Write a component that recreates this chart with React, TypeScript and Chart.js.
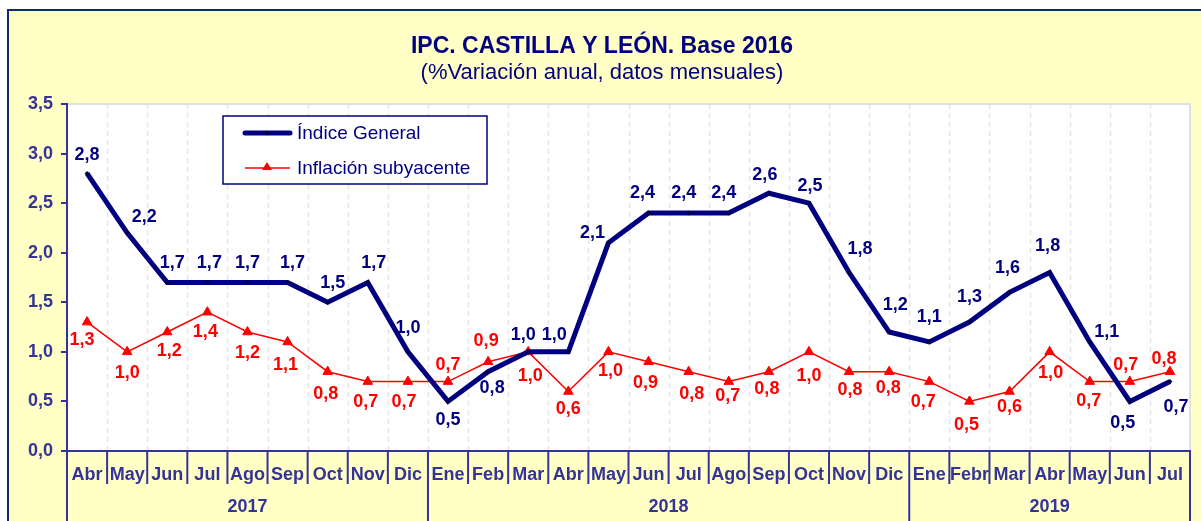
import React, { useEffect, useRef } from "react";
import { Chart, registerables } from "chart.js";

Chart.register(...registerables);

// ---------- data ----------
const MONTHS = [
  "Abr", "May", "Jun", "Jul", "Ago", "Sep", "Oct", "Nov", "Dic",
  "Ene", "Feb", "Mar", "Abr", "May", "Jun", "Jul", "Ago", "Sep", "Oct", "Nov", "Dic",
  "Ene", "Febr", "Mar", "Abr", "May", "Jun", "Jul",
];
const YEARS = ["2017", "2018", "2019"];
const YEAR_SPANS = [9, 12, 7];

const INDICE_GENERAL = [
  2.8, 2.2, 1.7, 1.7, 1.7, 1.7, 1.5, 1.7, 1.0,
  0.5, 0.8, 1.0, 1.0, 2.1, 2.4, 2.4, 2.4, 2.6, 2.5, 1.8, 1.2,
  1.1, 1.3, 1.6, 1.8, 1.1, 0.5, 0.7,
];
const INFLACION_SUBYACENTE = [
  1.3, 1.0, 1.2, 1.4, 1.2, 1.1, 0.8, 0.7, 0.7,
  0.7, 0.9, 1.0, 0.6, 1.0, 0.9, 0.8, 0.7, 0.8, 1.0, 0.8, 0.8,
  0.7, 0.5, 0.6, 1.0, 0.7, 0.7, 0.8,
];

const Y_MIN = 0;
const Y_MAX = 3.5;
const Y_STEP = 0.5;

const TITLE = "IPC. CASTILLA Y LEÓN. Base 2016";
const SUBTITLE = "(%Variación anual, datos mensuales)";
const SERIES_NAMES = ["Índice General", "Inflación subyacente"];

// label placement offsets (dx, dy) relative to each point
const IG_LABEL_OFFSETS: [number, number][] = [
  [0, -18], [17, -16], [5, -19], [2, -19], [0, -19], [5, -19], [5, -19], [6, -19], [0, -24],
  [0, 19], [4, 16], [-5, -17], [-14, -17], [-16, -10], [-6, -20], [-5, -20], [-5, -20], [-4, -18], [1, -17], [11, -24], [6, -27],
  [0, -25], [0, -25], [-2, -24], [-2, -27], [17, -10], [-7, 22], [6, 25],
];
const IS_LABEL_OFFSETS: [number, number][] = [
  [-5, 18], [0, 21], [2, 19], [-2, 20], [0, 21], [-2, 23], [-2, 22], [-2, 20], [-4, 20],
  [0, -17], [-2, -21], [2, 24], [0, 18], [2, 19], [-3, 21], [3, 22], [-1, 14], [-2, 17], [0, 24], [1, 18], [-1, 16],
  [-6, 20], [-3, 24], [0, 16], [1, 21], [-1, 19], [-4, -17], [-6, -13],
];

// ---------- styles ----------
const FONT = "'Liberation Sans', Arial, Helvetica, sans-serif";
const NAVY = "#000080";
const AXIS_BLUE = "#333399";
const RED = "#FF0000";
const YELLOW = "#FFFFC6";
const FRAME = "#0E2A66";

const fmt = (v: number) => v.toFixed(1).replace(".", ",");

function catBoundary(chart: any, i: number) {
  const x = chart.scales.x;
  const w = x.getPixelForValue(1) - x.getPixelForValue(0);
  return x.getPixelForValue(i) - w / 2;
}

const framePlugin = {
  id: "frame",
  beforeDraw(chart: any) {
    const { ctx, chartArea: ca, width, height } = chart;
    ctx.save();
    ctx.fillStyle = "#FFFFFF";
    ctx.fillRect(0, 0, width, height);
    ctx.fillStyle = YELLOW;
    ctx.fillRect(8, 10, width - 8, height - 10);
    ctx.strokeStyle = FRAME;
    ctx.lineWidth = 2;
    ctx.beginPath();
    ctx.moveTo(8, height);
    ctx.lineTo(8, 10);
    ctx.lineTo(width, 10);
    ctx.stroke();

    // plot area
    ctx.fillStyle = "#FFFFFF";
    ctx.fillRect(ca.left, ca.top, ca.right - ca.left, ca.bottom - ca.top);
    ctx.strokeStyle = "#E6E6E6";
    ctx.lineWidth = 1.5;
    ctx.setLineDash([5, 4]);
    for (let i = 1; i < MONTHS.length; i++) {
      const gx = Math.round(catBoundary(chart, i)) + 0.5;
      ctx.beginPath();
      ctx.moveTo(gx, ca.top);
      ctx.lineTo(gx, ca.bottom);
      ctx.stroke();
    }
    ctx.setLineDash([]);
    ctx.strokeStyle = "#E0E0E0";
    ctx.lineWidth = 2;
    ctx.strokeRect(ca.left, ca.top, ca.right - ca.left, ca.bottom - ca.top);

    // titles
    ctx.fillStyle = NAVY;
    ctx.textAlign = "center";
    ctx.textBaseline = "middle";
    ctx.font = `bold 23px ${FONT}`;
    ctx.fillText(TITLE, 602, 47);
    ctx.font = `22px ${FONT}`;
    ctx.fillText(SUBTITLE, 602, 73);
    ctx.restore();
  },
  afterDatasetsDraw(chart: any) {
    const { ctx } = chart;
    ctx.save();
    ctx.textAlign = "center";
    ctx.textBaseline = "middle";
    ctx.font = `bold 18px ${FONT}`;
    const sets = [
      { idx: 0, values: INDICE_GENERAL, offs: IG_LABEL_OFFSETS, color: NAVY },
      { idx: 1, values: INFLACION_SUBYACENTE, offs: IS_LABEL_OFFSETS, color: RED },
    ];
    for (const s of sets) {
      const meta = chart.getDatasetMeta(s.idx);
      ctx.fillStyle = s.color;
      meta.data.forEach((pt: any, i: number) => {
        const [dx, dy] = s.offs[i];
        ctx.fillText(fmt(s.values[i]), pt.x + dx, pt.y + dy);
      });
    }

    // legend
    const lx = 223, ly = 116, lw = 264, lh = 68;
    ctx.fillStyle = "#FFFFFF";
    ctx.fillRect(lx, ly, lw, lh);
    ctx.strokeStyle = NAVY;
    ctx.lineWidth = 1.5;
    ctx.strokeRect(lx, ly, lw, lh);
    // entry 1
    ctx.strokeStyle = NAVY;
    ctx.lineWidth = 5;
    ctx.lineCap = "round";
    ctx.beginPath();
    ctx.moveTo(245, 133);
    ctx.lineTo(290, 133);
    ctx.stroke();
    ctx.lineCap = "butt";
    ctx.fillStyle = "#000040";
    ctx.beginPath();
    ctx.moveTo(267, 130.5);
    ctx.lineTo(269.5, 133);
    ctx.lineTo(267, 135.5);
    ctx.lineTo(264.5, 133);
    ctx.closePath();
    ctx.fill();
    // entry 2
    ctx.strokeStyle = RED;
    ctx.lineWidth = 1.5;
    ctx.beginPath();
    ctx.moveTo(245, 168);
    ctx.lineTo(290, 168);
    ctx.stroke();
    ctx.fillStyle = RED;
    ctx.beginPath();
    ctx.moveTo(267, 162);
    ctx.lineTo(272, 170);
    ctx.lineTo(262, 170);
    ctx.closePath();
    ctx.fill();
    ctx.fillStyle = NAVY;
    ctx.textAlign = "left";
    ctx.font = `19px ${FONT}`;
    ctx.fillText(SERIES_NAMES[0], 297, 134);
    ctx.fillText(SERIES_NAMES[1], 297, 169);
    ctx.restore();
  },
  afterDraw(chart: any) {
    const { ctx, chartArea: ca, height } = chart;
    ctx.save();
    ctx.strokeStyle = AXIS_BLUE;
    ctx.lineWidth = 2;
    const yearBounds = new Set<number>([0]);
    let acc = 0;
    YEAR_SPANS.forEach((s) => {
      acc += s;
      yearBounds.add(acc);
    });
    for (let i = 0; i <= MONTHS.length; i++) {
      const gx = catBoundary(chart, i);
      ctx.beginPath();
      ctx.moveTo(gx, ca.bottom);
      ctx.lineTo(gx, yearBounds.has(i) ? height : ca.bottom + 33);
      ctx.stroke();
    }
    ctx.fillStyle = AXIS_BLUE;
    ctx.font = `bold 18px ${FONT}`;
    ctx.textAlign = "center";
    ctx.textBaseline = "middle";
    let start = 0;
    YEARS.forEach((y, k) => {
      const end = start + YEAR_SPANS[k];
      const cx = (catBoundary(chart, start) + catBoundary(chart, end)) / 2;
      ctx.fillText(y, cx, 507);
      start = end;
    });
    ctx.restore();
  },
};

export default function App() {
  const ref = useRef<HTMLCanvasElement | null>(null);
  useEffect(() => {
    document.body.style.margin = "0";
    const canvas = ref.current;
    if (!canvas) return;
    const chart = new Chart(canvas, {
      type: "line",
      data: {
        labels: MONTHS,
        datasets: [
          {
            label: SERIES_NAMES[0],
            data: INDICE_GENERAL,
            borderColor: NAVY,
            borderWidth: 5,
            pointStyle: "rectRot",
            pointRadius: 2.5,
            pointBackgroundColor: "#000040",
            pointBorderColor: "#000040",
            pointBorderWidth: 0,
            tension: 0,
          },
          {
            label: SERIES_NAMES[1],
            data: INFLACION_SUBYACENTE,
            borderColor: RED,
            borderWidth: 1.5,
            pointStyle: "triangle",
            pointRadius: 5.5,
            pointBackgroundColor: RED,
            pointBorderColor: RED,
            pointBorderWidth: 1,
            tension: 0,
          },
        ],
      },
      options: {
        responsive: false,
        animation: false,
        layout: { padding: { top: 104, right: 11, left: 0, bottom: 0 } },
        plugins: {
          legend: { display: false },
          tooltip: { enabled: false },
          title: { display: false },
        },
        scales: {
          x: {
            type: "category",
            offset: true,
            grid: { display: false },
            border: { display: true, color: AXIS_BLUE, width: 2 },
            ticks: {
              autoSkip: false,
              maxRotation: 0,
              minRotation: 0,
              color: AXIS_BLUE,
              font: { family: FONT, size: 18, weight: "bold" },
              padding: 5,
            },
            afterFit: (s: any) => {
              s.height = 70;
            },
          },
          y: {
            min: Y_MIN,
            max: Y_MAX,
            ticks: {
              stepSize: Y_STEP,
              color: AXIS_BLUE,
              font: { family: FONT, size: 18, weight: "bold" },
              padding: 8,
              callback: (v: any) => fmt(Number(v)),
            },
            grid: {
              display: true,
              drawOnChartArea: false,
              drawTicks: true,
              tickLength: 6,
              color: AXIS_BLUE,
              lineWidth: 2,
            },
            border: { display: true, color: AXIS_BLUE, width: 2 },
            afterFit: (s: any) => {
              s.width = 67;
            },
          },
        },
      },
      plugins: [framePlugin],
    });
    return () => chart.destroy();
  }, []);
  return (
    <div style={{ width: 1201, height: 521 }}>
      <canvas ref={ref} width={1201} height={521} style={{ display: "block" }} />
    </div>
  );
}
